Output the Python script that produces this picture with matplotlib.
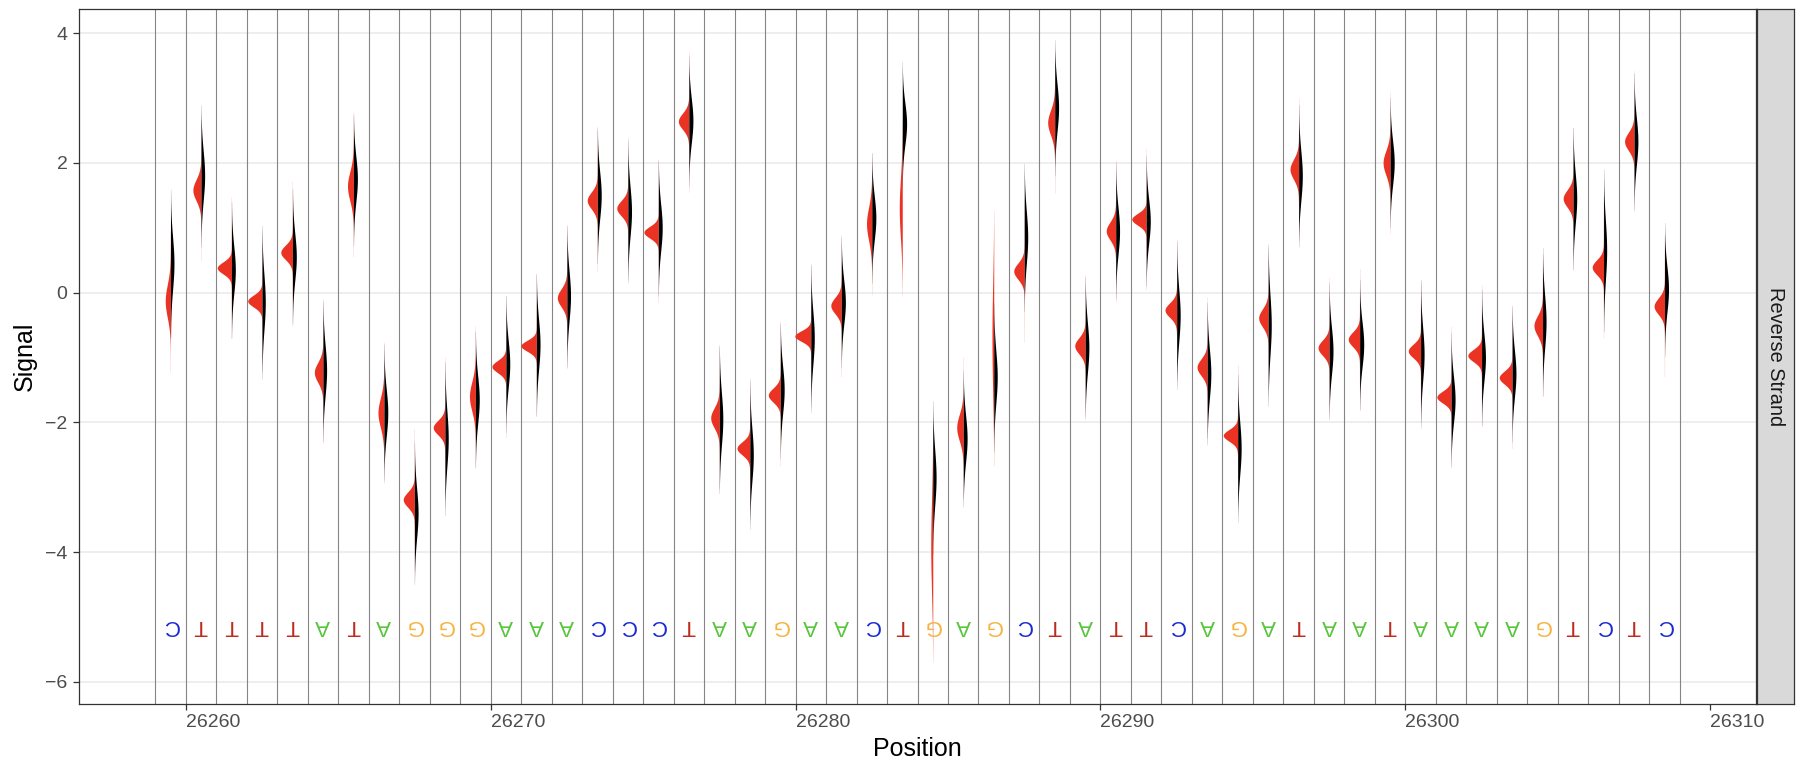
import numpy as np
import matplotlib
matplotlib.use("Agg")
import matplotlib.pyplot as plt

plt.rcParams['font.family'] = ['Liberation Sans', 'DejaVu Sans']

# genomic positions (start of each base) and the base shown under each
positions = np.arange(26259, 26309)
bases = list("CTTTTATAGG" "GAAACCCTAA" "GAACTGAGCT" "ATTCAGATAA" "TAAAAGTCTC")

# red group (left half of each violin): centre and spread of the signal
red_mean = [-0.13, 1.58, 0.38, -0.13, 0.62, -1.23, 1.64, -1.85, -3.19, -2.08,
            -1.60, -1.14, -0.82, -0.08, 1.42, 1.30, 0.93, 2.64, -1.93, -2.40,
            -1.58, -0.67, -0.20, 1.06, 1.30, -3.90, -2.08, -0.70, 0.33, 2.62,
            -0.82, 0.95, 1.13, -0.27, -1.15, -2.20, -0.39, 1.90, -0.85, -0.72,
            2.00, -0.90, -1.61, -0.97, -1.31, -0.51, 1.45, 0.39, 2.33, -0.21]
red_sd = [0.25, 0.16, 0.09, 0.09, 0.11, 0.15, 0.22, 0.22, 0.115, 0.11,
          0.22, 0.092, 0.083, 0.135, 0.127, 0.116, 0.089, 0.123, 0.15, 0.10,
          0.107, 0.08, 0.123, 0.25, 0.45, 0.70, 0.20, 0.80, 0.123, 0.185,
          0.123, 0.136, 0.089, 0.11, 0.127, 0.089, 0.136, 0.15, 0.116, 0.113,
          0.185, 0.104, 0.09, 0.093, 0.10, 0.15, 0.13, 0.113, 0.136, 0.123]

# black group (right half)
black_mean = [0.45, 1.80, 0.35, -0.15, 0.55, -1.20, 1.75, -1.85, -3.40, -2.25,
              -1.65, -1.10, -0.80, -0.05, 1.50, 1.25, 1.00, 2.65, -1.95, -2.50,
              -1.50, -0.70, -0.15, 1.15, 2.60, -2.85, -2.25, -1.30, 0.85, 2.85,
              -0.85, 0.95, 1.10, -0.35, -1.25, -2.40, -0.50, 1.80, -0.90, -0.80,
              2.00, -0.95, -1.65, -1.00, -1.25, -0.45, 1.45, 0.65, 2.33, 0.05]
black_sd = [0.40, 0.38, 0.36, 0.42, 0.36, 0.38, 0.35, 0.36, 0.38, 0.42,
            0.36, 0.36, 0.38, 0.38, 0.36, 0.38, 0.36, 0.34, 0.40, 0.40,
            0.36, 0.40, 0.34, 0.34, 0.32, 0.42, 0.36, 0.40, 0.40, 0.36,
            0.38, 0.36, 0.34, 0.40, 0.38, 0.40, 0.45, 0.38, 0.36, 0.34,
            0.34, 0.40, 0.35, 0.36, 0.36, 0.40, 0.38, 0.45, 0.36, 0.35]

base_colors = {'A': '#58C43C', 'C': '#1A2ACF', 'G': '#F5B441', 'T': '#BE2A1E'}
RED = '#EB3323'
SCALE = 0.118   # same area for every half violin


def density(y, mu, sd, core):
    g = lambda s: np.exp(-0.5 * ((y - mu) / s) ** 2) / (s * np.sqrt(2 * np.pi))
    return core * g(sd) + (1 - core) * g(0.9)


fig = plt.figure(figsize=(17.96, 7.65), dpi=100)
ax = fig.add_axes([0.04399, 0.07974, 0.93374, 0.9085])

ylo, yhi = -6.34, 4.37
ax.set_xlim(26256.5, 26311.5)
ax.set_ylim(ylo, yhi)

for yv in range(-6, 5, 2):
    ax.axhline(yv, color='#EBEBEB', lw=1.2, zorder=0)

for b in list(positions) + [positions[-1] + 1]:
    ax.axvline(b, color='#858585', lw=0.8, zorder=1)

ys = np.linspace(ylo, yhi, 2000)
for i, p in enumerate(positions):
    c = p + 0.5
    wr = SCALE * density(ys, red_mean[i], red_sd[i], 0.88)
    wb = SCALE * density(ys, black_mean[i], black_sd[i], 0.95)
    ax.fill_betweenx(ys, c - wr, c, where=wr > 0.003, color=RED, lw=0, zorder=2)
    ax.fill_betweenx(ys, c, c + wb, where=wb > 0.003, color='black', lw=0, zorder=2)
    ax.text(c, -5.13, bases[i], rotation=180, ha='center', va='center',
            fontsize=16, color=base_colors[bases[i]], zorder=3)

ax.set_xticks(range(26260, 26311, 10))
ax.set_yticks(range(-6, 5, 2))
ax.set_yticklabels(['\u22126', '\u22124', '\u22122', '0', '2', '4'])
for lab in ax.get_xticklabels():
    lab.set_horizontalalignment('left')
ax.tick_params(axis='both', length=4.3, width=0.9, color='#333333',
               labelsize=14, labelcolor='#4D4D4D')
ax.tick_params(axis='x', pad=3)
ax.tick_params(axis='y', pad=4)
for s in ax.spines.values():
    s.set_color('#333333')
    s.set_linewidth(0.9)

ax.set_xlabel('Position', fontsize=18, labelpad=4)
ax.set_ylabel('Signal', fontsize=18, labelpad=6)

# facet strip on the right
sax = fig.add_axes([0.97829, 0.07974, 0.0206, 0.9085])
sax.set_facecolor('#D9D9D9')
sax.set_xticks([])
sax.set_yticks([])
for s in sax.spines.values():
    s.set_color('#333333')
    s.set_linewidth(0.9)
sax.text(0.5, 0.5, 'Reverse Strand', rotation=-90, ha='center', va='center',
         fontsize=14.4, color='#1A1A1A', transform=sax.transAxes)

fig.savefig('out.png', dpi=100)
